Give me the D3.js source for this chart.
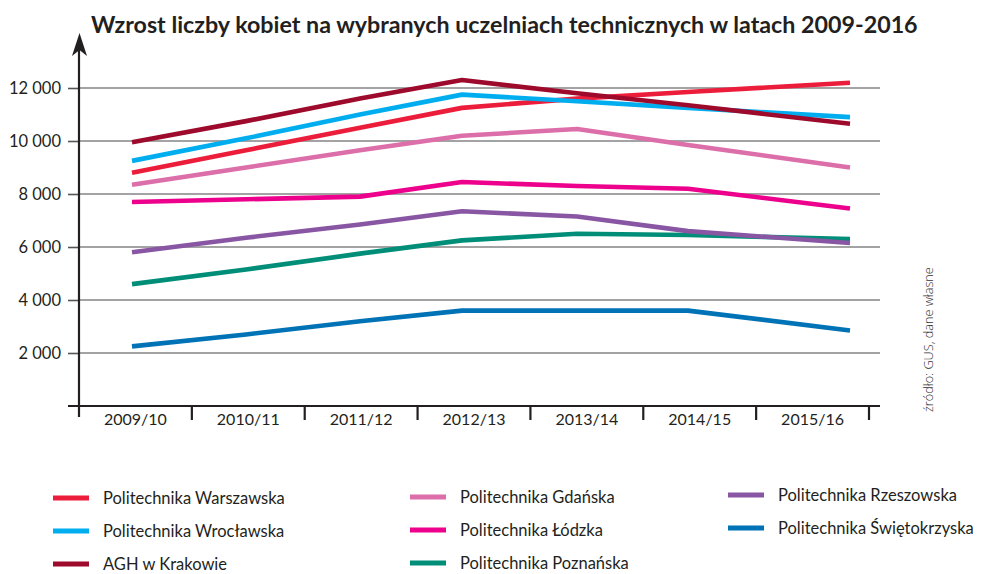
<!DOCTYPE html>
<html>
<head>
<meta charset="utf-8">
<script src="https://cdn.jsdelivr.net/npm/d3@7"></script>
<style>
    html, body { margin: 0; padding: 0; background: #fff; }
    svg { display: block; font-family: Lato, "Open Sans", sans-serif; }
</style>
</head>
<body>
<div id="chart"></div>
<script>
// data (number of women students)
const years = ['2009/10', '2010/11', '2011/12', '2012/13', '2013/14', '2014/15', '2015/16'];
const yTicks = [2000, 4000, 6000, 8000, 10000, 12000];

const warszawska = [8800, 9650, 10500, 11250, 11600, 11850, 12200];
const wroclawska = [9250, 10100, 11000, 11750, 11500, 11250, 10900];
const agh = [9950, 10750, 11600, 12300, 11800, 11350, 10650];
const gdanska = [8350, 9000, 9650, 10200, 10450, 9850, 9000];
const lodzka = [7700, 7800, 7900, 8450, 8300, 8200, 7450];
const poznanska = [4600, 5150, 5750, 6250, 6500, 6450, 6300];
const rzeszowska = [5800, 6350, 6850, 7350, 7150, 6600, 6150];
const swietokrzyska = [2250, 2700, 3200, 3600, 3600, 3600, 2850];

const series = [
    { name: 'Politechnika Warszawska', values: warszawska, color: '#ec1c3b', col: 0, row: 0 },
    { name: 'Politechnika Wrocławska', values: wroclawska, color: '#00aeef', col: 0, row: 1 },
    { name: 'AGH w Krakowie', values: agh, color: '#9d0a2c', col: 0, row: 2 },
    { name: 'Politechnika Gdańska', values: gdanska, color: '#dc6eaa', col: 1, row: 0 },
    { name: 'Politechnika Łódzka', values: lodzka, color: '#ec008c', col: 1, row: 1 },
    { name: 'Politechnika Poznańska', values: poznanska, color: '#008e78', col: 1, row: 2 },
    { name: 'Politechnika Rzeszowska', values: rzeszowska, color: '#8956a4', col: 2, row: 0 },
    { name: 'Politechnika Świętokrzyska', values: swietokrzyska, color: '#0072b6', col: 2, row: 1 }
];

const width = 988;
const height = 574;
const axisColor = '#231f20';
const gridColor = '#858585';

const svg = d3.select('#chart')
    .append('svg')
    .attr('width', width)
    .attr('height', height);

// scales
const y = d3.scaleLinear().domain([0, 12000]).range([406, 88]);
const x = d3.scaleBand().domain(years).range([79, 869]).padding(0);
// the lines in the original are drawn a bit off the band centres, so they get their own scale
const lineX = d3.scaleLinear()
    .domain([0, 2, 3, 4, 5, 6])
    .range([132, 360, 462, 577, 688, 850]);

// title
const title = svg.append('text')
    .attr('x', 91)
    .attr('y', 33)
    .attr('font-weight', 700)
    .attr('font-size', 20)
    .attr('fill', axisColor)
    .text('Wzrost liczby kobiet na wybranych uczelniach technicznych w latach 2009-2016');
const tw = title.node().getComputedTextLength();
title.attr('font-size', 20 * 827 / tw);

// grid
svg.append('g')
    .selectAll('line')
    .data(yTicks)
    .enter()
    .append('line')
    .attr('x1', 79)
    .attr('x2', 880)
    .attr('y1', (d) => y(d))
    .attr('y2', (d) => y(d))
    .attr('stroke', gridColor)
    .attr('stroke-width', 1.6);

// y axis ticks + labels
const fmt = (d) => d3.format(',')(d).replace(',', ' ');
const yAxis = svg.append('g')
    .attr('transform', 'translate(79,0)')
    .call(d3.axisLeft(y).tickValues(yTicks).tickSize(11).tickPadding(7).tickFormat(fmt));
yAxis.select('.domain').remove();
yAxis.selectAll('.tick line').attr('stroke', '#555').attr('stroke-width', 1.6);
yAxis.selectAll('.tick text')
    .attr('font-family', 'Lato, sans-serif')
    .attr('font-size', 16.5)
    .attr('fill', axisColor);

// x axis
svg.append('line')
    .attr('x1', 68)
    .attr('x2', 880)
    .attr('y1', y(0))
    .attr('y2', y(0))
    .attr('stroke', axisColor)
    .attr('stroke-width', 2.2);

const xAxis = svg.append('g')
    .attr('transform', `translate(0,${y(0)})`)
    .call(d3.axisBottom(x).tickSize(0).tickPadding(8));
xAxis.select('.domain').remove();
xAxis.selectAll('.tick text')
    .attr('font-family', 'Lato, sans-serif')
    .attr('font-size', 16)
    .attr('fill', axisColor);

// ticks between the year bands
svg.append('g')
    .selectAll('line')
    .data(years.slice(1).map((d) => x(d)).concat([x.range()[1]]))
    .enter()
    .append('line')
    .attr('x1', (d) => d)
    .attr('x2', (d) => d)
    .attr('y1', y(0))
    .attr('y2', y(0) + 14)
    .attr('stroke', axisColor)
    .attr('stroke-width', 2.2);

// y axis line with arrow
svg.append('line')
    .attr('x1', 79)
    .attr('x2', 79)
    .attr('y1', 417)
    .attr('y2', 48)
    .attr('stroke', axisColor)
    .attr('stroke-width', 2.2);
svg.append('path')
    .attr('d', 'M 79.5 33 L 87 56 L 79.5 50 L 72 56 Z')
    .attr('fill', axisColor);

// lines
const line = d3.line()
    .x((d, i) => lineX(i))
    .y((d) => y(d));

svg.append('g')
    .selectAll('path')
    .data(series)
    .enter()
    .append('path')
    .attr('d', (d) => line(d.values))
    .attr('fill', 'none')
    .attr('stroke', (d) => d.color)
    .attr('stroke-width', 4.6)
    .attr('stroke-linejoin', 'round');

// source note, fitted to the length it has in the original
const note = svg.append('text')
    .attr('transform', 'translate(933,412) rotate(-90)')
    .attr('font-family', '"Open Sans", sans-serif')
    .attr('font-weight', 300)
    .attr('font-size', 14)
    .attr('fill', '#333')
    .text('źródło: GUS, dane własne');
const nw = note.node().getComputedTextLength();
note.attr('font-size', Math.min(17.5, 14 * 145 / nw));

// legend
const colX = [53, 410, 728];
const colY = [498, 497, 495];
const legend = svg.append('g')
    .selectAll('g')
    .data(series)
    .enter()
    .append('g')
    .attr('transform', (d) => `translate(${colX[d.col]},${colY[d.col] + d.row * 33})`);

legend.append('line')
    .attr('x1', 0)
    .attr('x2', 36)
    .attr('stroke', (d) => d.color)
    .attr('stroke-width', 5);

legend.append('text')
    .attr('x', 50)
    .attr('dy', '0.35em')
    .attr('font-size', 16.5)
    .attr('fill', axisColor)
    .text((d) => d.name);
</script>
</body>
</html>
